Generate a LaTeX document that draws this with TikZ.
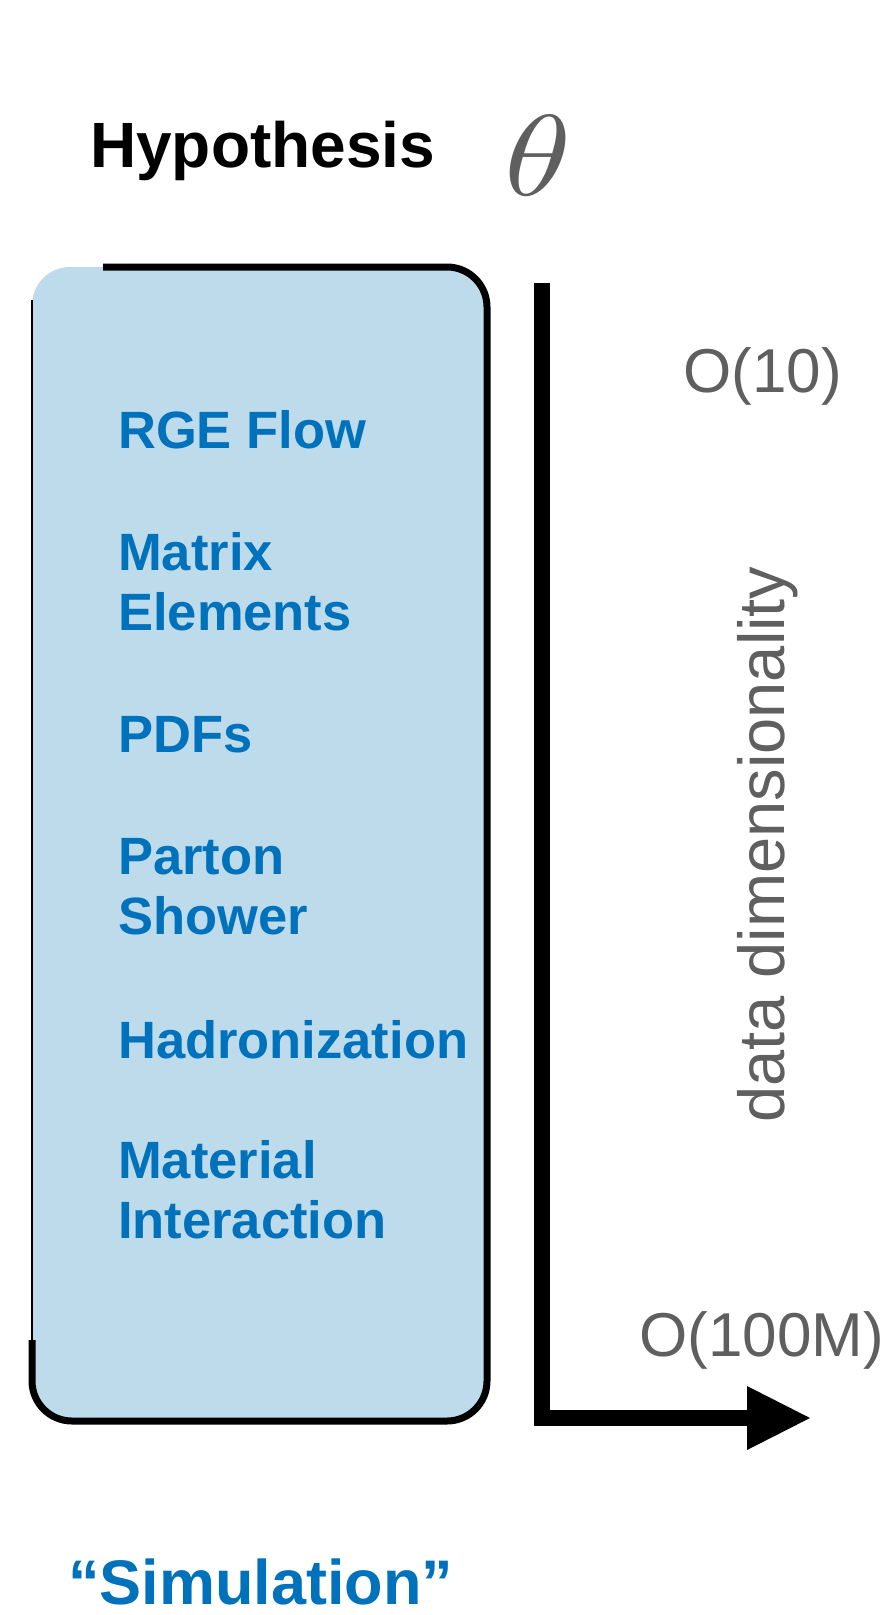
\documentclass[tikz,border=0pt]{standalone}
\usepackage{graphicx}
\usepackage{fontspec}
\setmainfont{Liberation Sans}
\definecolor{boxblue}{HTML}{BEDBEC}
\definecolor{stageblue}{HTML}{0071BB}
\definecolor{axisgray}{HTML}{5F5F5F}
\begin{document}
\begin{tikzpicture}[x=1pt,y=-1pt,
  stage/.style={anchor=base west,inner sep=0pt,align=left,text=stageblue,
    font=\fontsize{52.5}{60}\selectfont\bfseries},
  title/.style={anchor=base west,inner sep=0pt,font=\fontsize{64}{70}\selectfont\bfseries},
  scale label/.style={anchor=base west,inner sep=0pt,text=axisgray,
    font=\fontsize{62}{70}\selectfont}]
\useasboundingbox (0,0) rectangle (887,1615);

% simulation chain box
\fill[boxblue,rounded corners=38] (32,267) rectangle (487,1421);
\draw[line width=7,rounded corners=40] (103,267) -| (487,1421) -| (32,1340);
\draw[line width=1.5] (32,1342) -- (32,300);

% headings
\node[title] (hyp) at (90,167) {Hypothesis};
\node[inner sep=0pt,text=axisgray] (theta) at (538,156) {\scalebox{13.5}[11.5]{$\theta$}};
\node[title,text=stageblue,font=\fontsize{63}{70}\selectfont\bfseries] (sim) at (68,1604) {“Simulation”};

% simulation stages (anchored on the baseline of the last line)
\node[stage] (rge) at (118,448) {RGE Flow};
\node[stage] (me) at (118,630) {Matrix\\Elements};
\node[stage] (pdf) at (118,752) {PDFs};
\node[stage] (ps) at (118,934) {Parton\\Shower};
\node[stage] (had) at (118,1058) {Hadronization};
\node[stage] (mat) at (118,1238) {Material\\Interaction};

% data dimensionality axis
\coordinate (ytop) at (542,283);
\coordinate (corner) at (542,1418);
\coordinate (headbase) at (750,1418);
\coordinate (tip) at (810,1418);
\draw[line width=16,line join=miter,line cap=butt] (ytop) -- (corner) -- (headbase);
\fill (747,1386) -- (tip) -- (747,1450) -- cycle;

\node[scale label] (low) at (683,392) {O(10)};
\node[scale label] (high) at (639,1356) {O(100M)};
\node[scale label,font=\fontsize{65}{70}\selectfont,rotate=90] (dim) at (784,1123) {data dimensionality};
\end{tikzpicture}
\end{document}
